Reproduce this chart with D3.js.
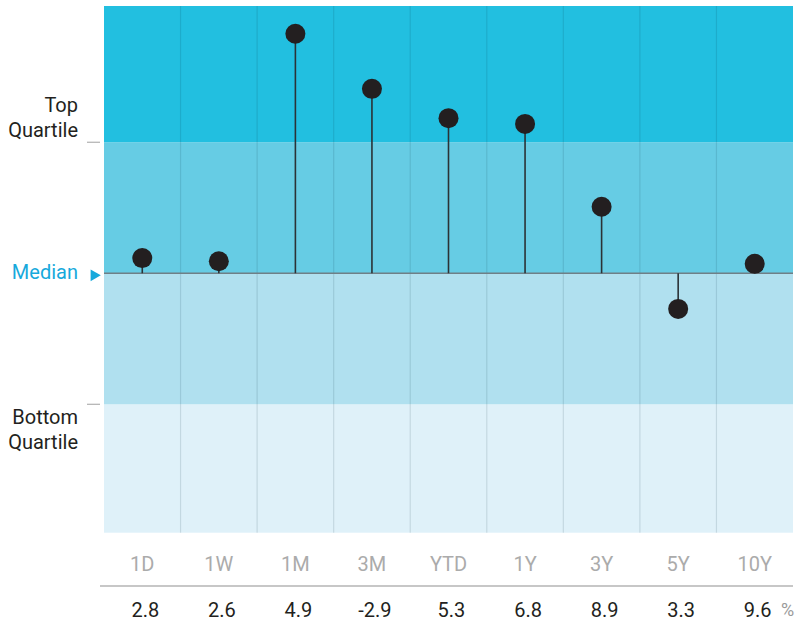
<!DOCTYPE html>
<html><head><meta charset="utf-8">
<script src="https://cdn.jsdelivr.net/npm/d3@7"></script>
<style>html,body{margin:0;padding:0;background:#fff;}svg{display:block;font-family:Roboto,"Noto Sans",sans-serif;}</style>
</head><body>
<svg id="c" width="797" height="623"></svg>
<script>
const categories = ["1D","1W","1M","3M","YTD","1Y","3Y","5Y","10Y"];
const ranks = [52.9, 52.3, 95.7, 85.2, 79.6, 78.5, 62.7, 43.2, 51.8];
const returns = ["2.8","2.6","4.9","-2.9","5.3","6.8","8.9","3.3","9.6"];
const bandEdges = [0.5, 25, 50, 75, 101];
const bandColors = ["#dff1f9","#b0e0ef","#66cce4","#22bfe0"];
const medianRank = 50;

(function(){
const svg = d3.select("#c");
const pL = 104, pR = 793, pT = 6, pB = 532.7;

const x = d3.scaleBand().domain(categories).range([pL, pR]).padding(0);
const y = d3.scaleLinear().domain([bandEdges[0], bandEdges[bandEdges.length-1]]).range([pB, pT]);

// bands
const bands = d3.range(bandColors.length).map(i => ({lo: bandEdges[i], hi: bandEdges[i+1], c: bandColors[i]}));
svg.append("g").selectAll("rect").data(bands).join("rect")
  .attr("x", pL).attr("width", pR-pL)
  .attr("y", d => y(d.hi)).attr("height", d => y(d.lo) - y(d.hi))
  .attr("fill", d => d.c);

// vertical column separators
svg.append("g").selectAll("line").data(categories.slice(1)).join("line")
  .attr("x1", d => x(d)).attr("x2", d => x(d))
  .attr("y1", pT).attr("y2", pB)
  .attr("stroke", "rgba(0,40,60,0.12)").attr("stroke-width", 1.2);

// median line
svg.append("line").attr("x1", pL).attr("x2", pR)
  .attr("y1", y(medianRank)).attr("y2", y(medianRank))
  .attr("stroke", "#6f7f86").attr("stroke-width", 1.5);

// left ticks at quartiles
svg.append("g").selectAll("line").data([25, 75]).join("line")
  .attr("x1", 87).attr("x2", 100).attr("y1", d => y(d)).attr("y2", d => y(d))
  .attr("stroke", "#b0b0b0").attr("stroke-width", 1.2);

// left labels
const lab = svg.append("g").attr("font-size", 20).attr("fill", "#231f20").attr("text-anchor", "end");
lab.append("text").attr("x", 78).attr("y", 112).text("Top");
lab.append("text").attr("x", 78).attr("y", 137).text("Quartile");
lab.append("text").attr("x", 78).attr("y", 424).text("Bottom");
lab.append("text").attr("x", 78).attr("y", 449).text("Quartile");
svg.append("text").attr("x", 78).attr("y", y(medianRank) + 6).attr("text-anchor","end")
  .attr("font-size", 20).attr("fill", "#17a9dc").text("Median");
svg.append("path")
  .attr("d", d3.symbol().type(d3.symbolTriangle).size(60)())
  .attr("transform", `translate(94,${y(medianRank)+2}) rotate(90)`)
  .attr("fill", "#17a9dc");

// stems and dots
const pts = categories.map((c, i) => ({c, r: ranks[i]}));
const cx = d => x(d.c) + x.bandwidth()/2;
svg.append("g").selectAll("line").data(pts).join("line")
  .attr("x1", cx).attr("x2", cx)
  .attr("y1", y(medianRank)).attr("y2", d => y(d.r))
  .attr("stroke", "#2b3236").attr("stroke-width", 1.6);
svg.append("g").selectAll("circle").data(pts).join("circle")
  .attr("cx", cx).attr("cy", d => y(d.r)).attr("r", 10)
  .attr("fill", "#231f20");

// bottom category axis
const xAxis = d3.axisBottom(x).tickSize(0).tickPadding(0);
const ax = svg.append("g").attr("transform", "translate(0,571)").call(xAxis);
ax.select(".domain").remove();
ax.selectAll("text").attr("font-size", 20).attr("fill", "#ababab")
  .attr("font-family", "Roboto,sans-serif").attr("dy", 0);

svg.append("line").attr("x1", 100).attr("x2", pR).attr("y1", 586).attr("y2", 586)
  .attr("stroke", "#b5b5b5").attr("stroke-width", 1.5);

// returns row
svg.append("g").selectAll("text").data(categories).join("text")
  .attr("x", (d) => x(d) + x.bandwidth()/2 + 3).attr("y", 617)
  .attr("text-anchor", "middle").attr("font-size", 20).attr("fill", "#231f20")
  .text((d, i) => returns[i]);
svg.append("text").attr("x", 781).attr("y", 616).attr("font-size", 18).attr("fill", "#9a9a9a").text("%");
})();
</script>
</body></html>
